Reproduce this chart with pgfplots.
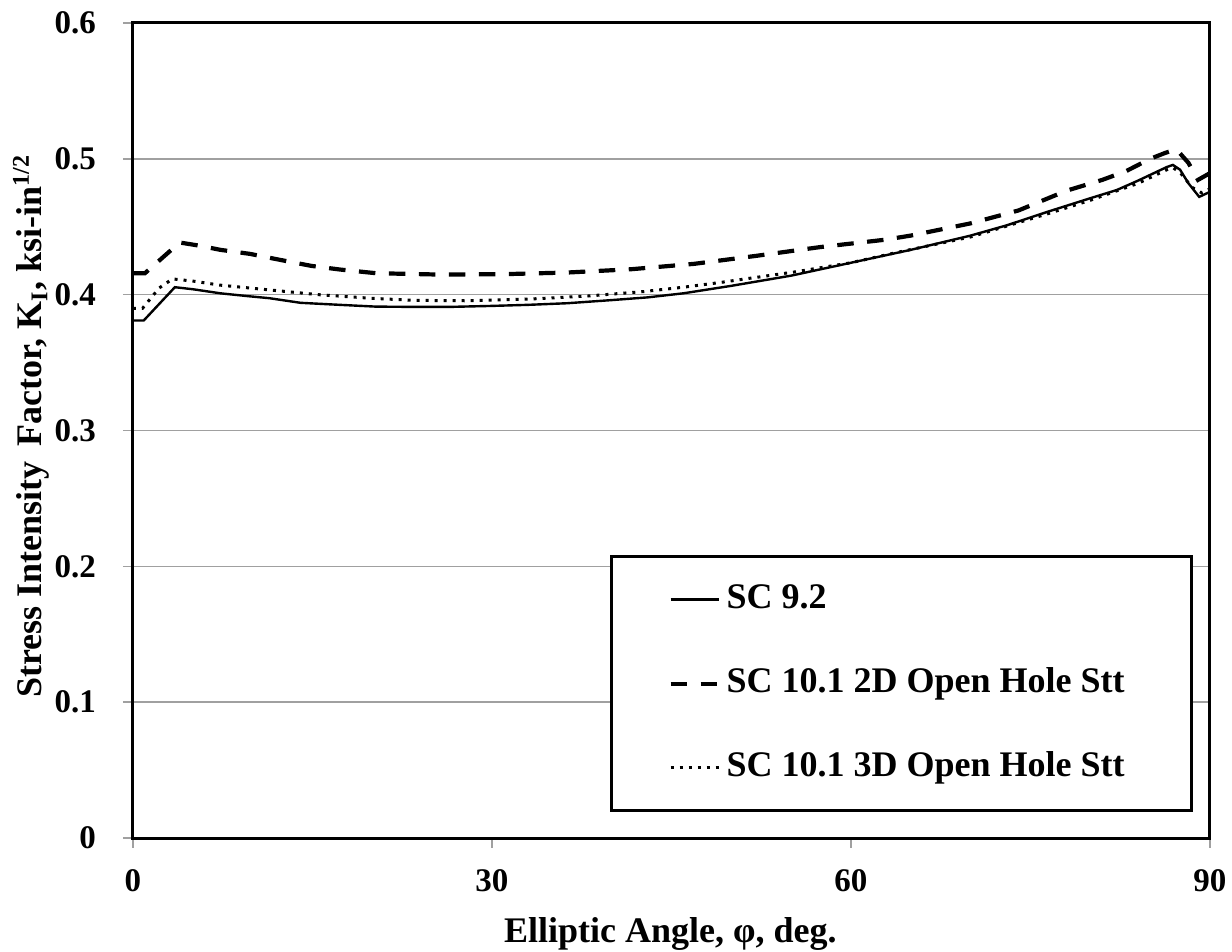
\documentclass[border=0pt]{standalone}
\usepackage{fontspec}
\setmainfont{Liberation Serif}
\usepackage{pgfplots}
\pgfplotsset{compat=1.18}

\newcommand{\chartfont}{\fontsize{12}{14.4}\selectfont\bfseries}
\newcommand{\tickfont}{\fontsize{11}{13.2}\selectfont\bfseries}
\definecolor{gridgray}{RGB}{160,160,160}

\begin{document}
\begin{tikzpicture}
\begin{axis}[
  scale only axis,
  width=359pt, height=271.67pt,
  xmin=0, xmax=90, ymin=0, ymax=0.6,
  xtick={0,30,60,90},
  ytick={0,0.1,0.2,0.3,0.4,0.5,0.6},
  /pgf/number format/assume math mode=true,
  /pgf/number format/fixed,
  /pgf/number format/precision=1,
  tick pos=left,
  tick align=outside,
  major tick length=3.33pt,
  tick style={gridgray, line width=0.5pt},
  ymajorgrids,
  grid style={gridgray, line width=0.5pt},
  axis line style={black, line width=1pt},
  tick label style={font=\tickfont},
  yticklabel style={anchor=east, inner sep=0pt, xshift=-8.8pt},
  xticklabel style={anchor=north, inner sep=0pt, yshift=-7pt},
  xlabel={Elliptic Angle, φ, deg.},
  ylabel={Stress Intensity\, Factor, K\textsubscript{I}, ksi-in\textsuperscript{1/2}},
  xlabel style={font=\chartfont, inner sep=0pt, at={(axis description cs:0.499,-0.1288)}, anchor=base},
  ylabel style={font=\chartfont, inner sep=0pt, at={(axis description cs:-0.0845,0.1718)}, anchor=base west, rotate=0},
  legend cell align=left,
  legend image code/.code={\draw[#1] (0pt,0pt) -- (16pt,0pt);},
  legend style={
    at={(axis description cs:0.4429,0.0319)}, anchor=south west,
    draw=black, line width=1pt, fill=white,
    inner xsep=19pt, inner ysep=6.8pt,
    row sep=13pt, column sep=0pt,
    font=\chartfont,
    nodes={inner sep=2pt, text height=8.5pt, text depth=2.5pt},
  },
]

% SC 9.2
\addplot[black, line width=0.8pt] coordinates {
  (0,0.381) (0.9,0.381) (3.5,0.4055) (5.0,0.404) (7.3,0.401) (9.5,0.399)
  (11.4,0.3974) (14,0.394) (17.3,0.3925) (20.3,0.3912) (23.5,0.391)
  (26.5,0.391) (29.9,0.3917) (33,0.3925) (36.3,0.3937) (40,0.396)
  (43,0.398) (46,0.401) (50,0.4065) (55,0.414) (60,0.4235) (65,0.433)
  (70,0.4435) (73,0.451) (76.6,0.4615) (80,0.471) (82.2,0.477) (84,0.484)
  (86.4,0.494) (86.9,0.4955) (87.5,0.492) (88.2,0.482) (89.1,0.472) (90,0.4757)
};
\addlegendentry{\makebox[134pt][l]{SC 9.2}}

% SC 10.1 2D open hole
\addplot[black, line width=1.4pt, dash pattern=on 5.5pt off 4.5pt] coordinates {
  (0,0.4158) (1.0,0.4158) (3.9,0.4384) (5.6,0.436) (7.3,0.433) (9.8,0.430)
  (12.3,0.4256) (14.9,0.4212) (17.3,0.4185) (20.3,0.4158) (25.6,0.4148)
  (31,0.4151) (36.3,0.4163) (41.6,0.4187) (46.9,0.4227) (52.1,0.4286)
  (57.4,0.435) (62.9,0.4405) (65,0.4435) (70,0.4525) (74,0.462) (78,0.4765)
  (81,0.4845) (83,0.491) (85,0.500) (86.3,0.5045) (87.2,0.507) (88.2,0.497)
  (89,0.4845) (90,0.4895)
};
\addlegendentry{\makebox[134pt][l]{SC 10.1 2D Open Hole Stt}}

% SC 10.1 3D open hole
\addplot[black, line width=1pt, dash pattern=on 1pt off 2pt] coordinates {
  (0,0.390) (0.8,0.390) (2.2,0.405) (3.3,0.4116) (5,0.410) (7.3,0.407)
  (11.4,0.4035) (15.5,0.400) (19.8,0.3974) (23.5,0.3958) (28,0.3955)
  (33,0.3967) (38,0.399) (42.7,0.4023) (46,0.4055) (49.1,0.409) (55.5,0.417)
  (60,0.4235) (63.8,0.431) (70,0.4425) (76.6,0.460) (80,0.4695) (84,0.482)
  (86.4,0.492) (86.9,0.4935) (87.5,0.490) (88.5,0.479) (89.3,0.475) (90,0.478)
};
\addlegendentry{\makebox[134pt][l]{SC 10.1 3D Open Hole Stt}}

\end{axis}
\pgfresetboundingbox
\path[use as bounding box] (-44.33pt,-37.67pt) rectangle (366.33pt,279.33pt);
\end{tikzpicture}
\end{document}
